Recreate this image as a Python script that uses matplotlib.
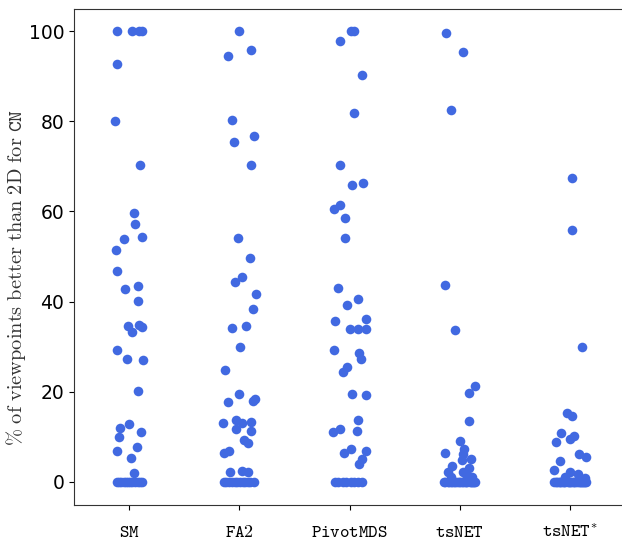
import matplotlib
matplotlib.use('Agg')
import matplotlib.pyplot as plt
import numpy as np

plt.rcParams['mathtext.fontset'] = 'cm'

categories = ['SM', 'FA2', 'PivotMDS', 'tsNET', 'tsNET*']

# values (% of viewpoints) and horizontal jitter (category units)
sm_values = [100, 100, 100, 100, 92.8, 80.0, 70.4, 59.6, 57.1, 53.8, 54.4, 51.4, 46.8,
             42.7, 43.5, 40.1, 34.5, 33.3, 34.7, 34.4, 29.3, 27.3, 27.1, 20.2, 12.9,
             12.0, 10.0, 11.0, 6.9, 7.8, 5.3, 1.9,
             0, 0, 0, 0, 0, 0, 0, 0, 0, 0, 0, 0]
sm_jitter = [-0.11, 0.03, 0.09, 0.12, -0.11, -0.13, 0.10, 0.04, 0.05, -0.05, 0.12, -0.12, -0.11,
             -0.04, 0.08, 0.08, -0.01, 0.03, 0.09, 0.12, -0.11, -0.02, 0.13, 0.08, 0.00,
             -0.08, -0.09, 0.11, -0.11, 0.07, 0.02, 0.04,
             -0.11, -0.09, -0.07, -0.05, -0.03, -0.01, 0.01, 0.03, 0.05, 0.08, 0.10, 0.12]

fa2_values = [99.9, 95.9, 94.4, 80.3, 76.8, 75.5, 70.3, 54.2, 49.7, 45.4, 44.3, 41.7, 38.3,
              34.2, 34.5, 29.9, 24.8, 19.4, 17.7, 18.3, 18.0, 13.0, 13.7, 13.0, 13.2,
              11.8, 11.3, 9.2, 8.6, 6.5, 6.9, 2.1, 2.5, 2.2,
              0, 0, 0, 0, 0, 0, 0, 0, 0, 0, 0, 0]
fa2_jitter = [0.00, 0.11, -0.10, -0.07, 0.13, -0.05, 0.11, -0.01, 0.10, 0.02, -0.04, 0.15, 0.12,
              -0.07, 0.06, 0.01, -0.13, 0.00, -0.10, 0.14, 0.12, -0.15, -0.03, 0.02, 0.11,
              -0.03, 0.11, 0.04, 0.08, -0.14, -0.09, -0.08, 0.02, 0.08,
              -0.14, -0.12, -0.09, -0.07, -0.04, -0.02, 0.01, 0.03, 0.05, 0.08, 0.10, 0.13]

pivot_values = [100, 99.9, 97.9, 90.2, 81.8, 70.3, 65.9, 66.2, 60.5, 61.4, 58.6, 54.2, 43.0,
                40.6, 39.3, 36.1, 35.6, 33.9, 33.9, 34.0, 29.3, 28.5, 27.3, 25.6, 24.4,
                19.5, 19.2, 13.7, 11.4, 11.0, 11.8, 7.2, 6.5, 6.9, 5.1, 3.9,
                0, 0, 0, 0, 0, 0, 0, 0]
pivot_jitter = [0.01, 0.04, -0.09, 0.11, 0.04, -0.09, 0.02, 0.12, -0.14, -0.09, -0.04, -0.04, -0.10,
                0.08, -0.02, 0.15, -0.13, 0.00, 0.08, 0.15, -0.14, 0.09, 0.10, -0.02, -0.06,
                0.02, 0.15, 0.08, 0.07, -0.15, -0.09, 0.01, -0.05, 0.15, 0.11, 0.09,
                -0.13, -0.10, -0.06, -0.03, 0.01, 0.04, 0.08, 0.11]

tsnet_values = [99.6, 95.4, 82.6, 43.7, 33.6, 21.2, 19.8, 13.5, 9.1, 6.4, 7.2, 6.2, 5.1,
                4.8, 3.5, 3.1, 2.1, 2.3, 1.8, 1.0, 1.0,
                0, 0, 0, 0, 0, 0, 0, 0, 0, 0, 0, 0, 0, 0, 0, 0, 0, 0, 0, 0, 0, 0]
tsnet_jitter = [-0.12, 0.03, -0.08, -0.13, -0.04, 0.14, 0.08, 0.08, 0.00, -0.13, 0.04, 0.03, 0.10,
                0.02, -0.07, 0.08, -0.11, 0.03, 0.06, 0.11, -0.08,
                -0.14, -0.13, -0.11, -0.10, -0.08, -0.07, -0.05, -0.04, -0.02, -0.01, 0.00,
                0.02, 0.03, 0.05, 0.06, 0.07, 0.09, 0.10, 0.11, 0.12, 0.13, 0.14]

tsnetstar_values = [67.3, 55.9, 29.9, 15.2, 14.7, 10.9, 10.3, 9.5, 8.8, 6.1, 5.5, 4.7, 2.7,
                    2.3, 1.7, 1.2, 0.8,
                    0, 0, 0, 0, 0, 0, 0, 0, 0, 0, 0, 0, 0, 0, 0, 0, 0, 0, 0, 0, 0, 0, 0, 0, 0]
tsnetstar_jitter = [0.02, 0.02, 0.11, -0.03, 0.02, -0.08, 0.04, 0.00, -0.13, 0.08, 0.15, -0.09, -0.14,
                    0.00, 0.07, -0.04, 0.14,
                    -0.14, -0.13, -0.12, -0.10, -0.09, -0.08, -0.06, -0.05, -0.04, -0.02, -0.01,
                    0.00, 0.01, 0.03, 0.04, 0.05, 0.06, 0.08, 0.09, 0.10, 0.11, 0.12, 0.13,
                    0.14, 0.15]

series = [(sm_values, sm_jitter), (fa2_values, fa2_jitter), (pivot_values, pivot_jitter),
          (tsnet_values, tsnet_jitter), (tsnetstar_values, tsnetstar_jitter)]

tick_labels = [r'$\mathtt{SM}$', r'$\mathtt{FA2}$', r'$\mathtt{PivotMDS}$',
               r'$\mathtt{tsNET}$', r'$\mathtt{tsNET}^{*}$']
y_ticks = [0, 20, 40, 60, 80, 100]

fig = plt.figure(figsize=(6.22, 5.42), dpi=100)
ax = fig.add_axes([74 / 622, (542 - 504.5) / 542, 551 / 622, 496 / 542])

for i, (vals, jit) in enumerate(series):
    x = i + np.asarray(jit, dtype=float)
    ax.scatter(x, vals, s=48, color='#4169E1', linewidths=0, zorder=3)

ax.set_xlim(-0.5, len(categories) - 0.5)
ax.set_ylim(-5, 105)
ax.set_xticks(range(len(categories)))
ax.set_xticklabels(tick_labels, fontsize=13)
ax.set_yticks(y_ticks)
ax.set_yticklabels([str(t) for t in y_ticks], fontsize=13.5)
ax.tick_params(axis='x', pad=10)
ax.set_ylabel(r'$\%\ \mathrm{of\ viewpoints\ better\ than\ 2D\ for\ }\mathtt{CN}$',
              fontsize=14.7, color='#333333')
ax.yaxis.set_label_coords(-0.084, 0.457)
for side in ['left', 'top', 'bottom']:
    ax.spines[side].set_color('#333333')
ax.spines['right'].set_visible(False)

fig.savefig('out.png', dpi=100)
